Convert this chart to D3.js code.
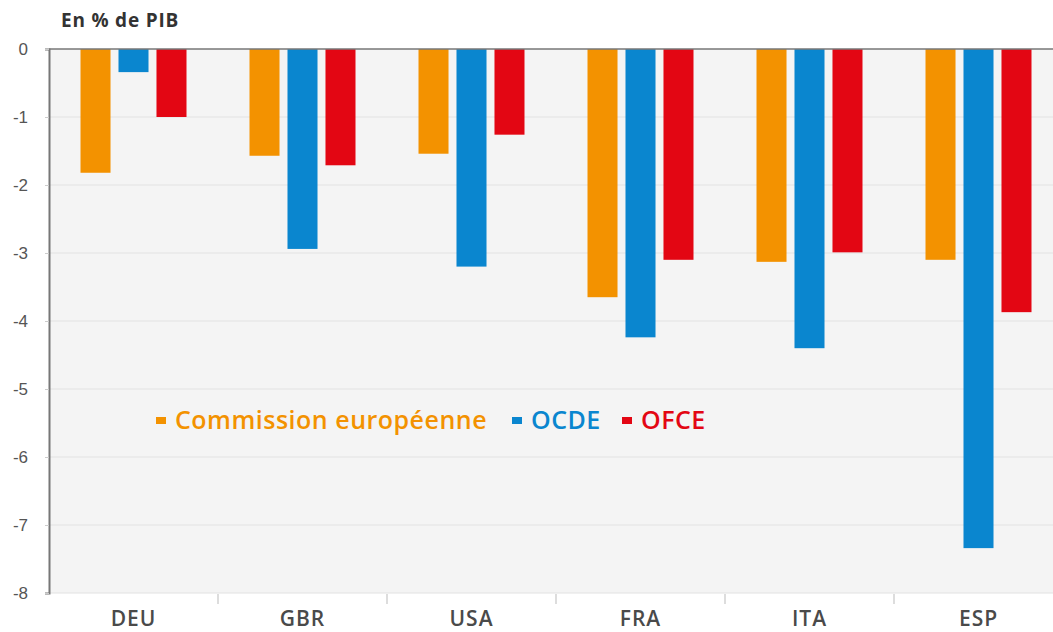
<!DOCTYPE html>
<html>
<head>
<meta charset="utf-8">
<script src="https://cdn.jsdelivr.net/npm/d3@7"></script>
<style>
  body { margin: 0; background: #fff; }
  svg { display: block; font-family: "Open Sans", sans-serif; }
</style>
</head>
<body>
<div id="graf"></div>
<script>
var pays = ["DEU", "GBR", "USA", "FRA", "ITA", "ESP"],
    series = ["Commission européenne", "OCDE", "OFCE"],
    commission = [-1.82, -1.57, -1.54, -3.65, -3.13, -3.10],
    ocde = [-0.34, -2.94, -3.20, -4.24, -4.40, -7.34],
    ofce = [-1.00, -1.71, -1.26, -3.10, -2.99, -3.87],
    yTicks = [0, -1, -2, -3, -4, -5, -6, -7, -8],
    couleurs = ["#f39200", "#0a86cf", "#e30613"];

var valeurs = [commission, ocde, ofce];

var largeur = 1053, hauteur = 632,
    marge = {gauche: 49, haut: 49, bas: 593};

var svg = d3.select("#graf").append("svg")
    .attr("width", largeur)
    .attr("height", hauteur);

var x = d3.scaleBand().domain(pays).range([marge.gauche, 1063]).padding(0);
var xs = d3.scaleBand().domain(series).range([-53, 53]).paddingInner(0.21);
var y = d3.scaleLinear().domain([-8, 0]).range([marge.bas, marge.haut]);

// fond
svg.append("rect")
    .attr("x", marge.gauche).attr("y", marge.haut)
    .attr("width", largeur - marge.gauche)
    .attr("height", marge.bas - marge.haut)
    .attr("fill", "#f4f4f4");

// grille
svg.append("g").selectAll("line")
    .data(yTicks.filter(function(d){ return d !== 0; }))
    .enter().append("line")
    .attr("x1", marge.gauche).attr("x2", largeur)
    .attr("y1", function(d){ return y(d); })
    .attr("y2", function(d){ return y(d); })
    .attr("stroke", "#e2e2e2");

// axe y
var axeY = svg.append("g")
    .attr("transform", "translate(" + marge.gauche + ",0)")
    .call(d3.axisLeft(y).tickValues(yTicks).tickSize(4).tickPadding(17)
        .tickFormat(function(d){ return String(d); }));
axeY.select(".domain").attr("stroke", "#777").attr("stroke-width", 2);
axeY.selectAll(".tick line").attr("stroke", "#ccc");
axeY.selectAll("text").attr("fill", "#555").style("font-size", "17px");

// barres
for (var s = 0; s < series.length; s++) {
    svg.append("g").selectAll("rect")
        .data(valeurs[s])
        .enter().append("rect")
        .attr("x", function(d, i){ return x(pays[i]) + x.bandwidth() / 2 + xs(series[s]); })
        .attr("y", y(0))
        .attr("width", xs.bandwidth())
        .attr("height", function(d){ return y(d) - y(0); })
        .attr("fill", couleurs[s]);
}

// ligne du zero
svg.append("line")
    .attr("x1", marge.gauche).attr("x2", largeur)
    .attr("y1", y(0)).attr("y2", y(0))
    .attr("stroke", "#777").attr("stroke-width", 1.5);

// axe x
svg.append("g").selectAll("line")
    .data(pays.slice(1))
    .enter().append("line")
    .attr("x1", function(d){ return x(d); })
    .attr("x2", function(d){ return x(d); })
    .attr("y1", marge.bas + 1).attr("y2", marge.bas + 11)
    .attr("stroke", "#bbb");

svg.append("g").selectAll("text")
    .data(pays)
    .enter().append("text")
    .attr("x", function(d){ return x(d) + x.bandwidth() / 2; })
    .attr("y", 626)
    .attr("text-anchor", "middle")
    .attr("fill", "#4a4a4a")
    .style("font-size", "21px")
    .style("font-weight", "600")
    .style("letter-spacing", "1px")
    .text(function(d){ return d; });

// titre
svg.append("text")
    .attr("x", 61).attr("y", 27)
    .attr("fill", "#333")
    .style("font-size", "19px")
    .style("font-weight", "bold")
    .style("letter-spacing", "0.8px")
    .text("En % de PIB");

// légende
var leg = svg.append("g").attr("transform", "translate(156,420)");
var posX = [0, 356, 466];
series.forEach(function(nom, i) {
    leg.append("rect")
        .attr("x", posX[i]).attr("y", -3)
        .attr("width", 10).attr("height", 7)
        .attr("fill", couleurs[i]);
    leg.append("text")
        .attr("x", posX[i] + 19).attr("y", 9)
        .attr("fill", couleurs[i])
        .style("font-size", "25px")
        .style("font-weight", "600")
        .style("letter-spacing", "0.5px")
        .text(nom);
});
</script>
</body>
</html>
